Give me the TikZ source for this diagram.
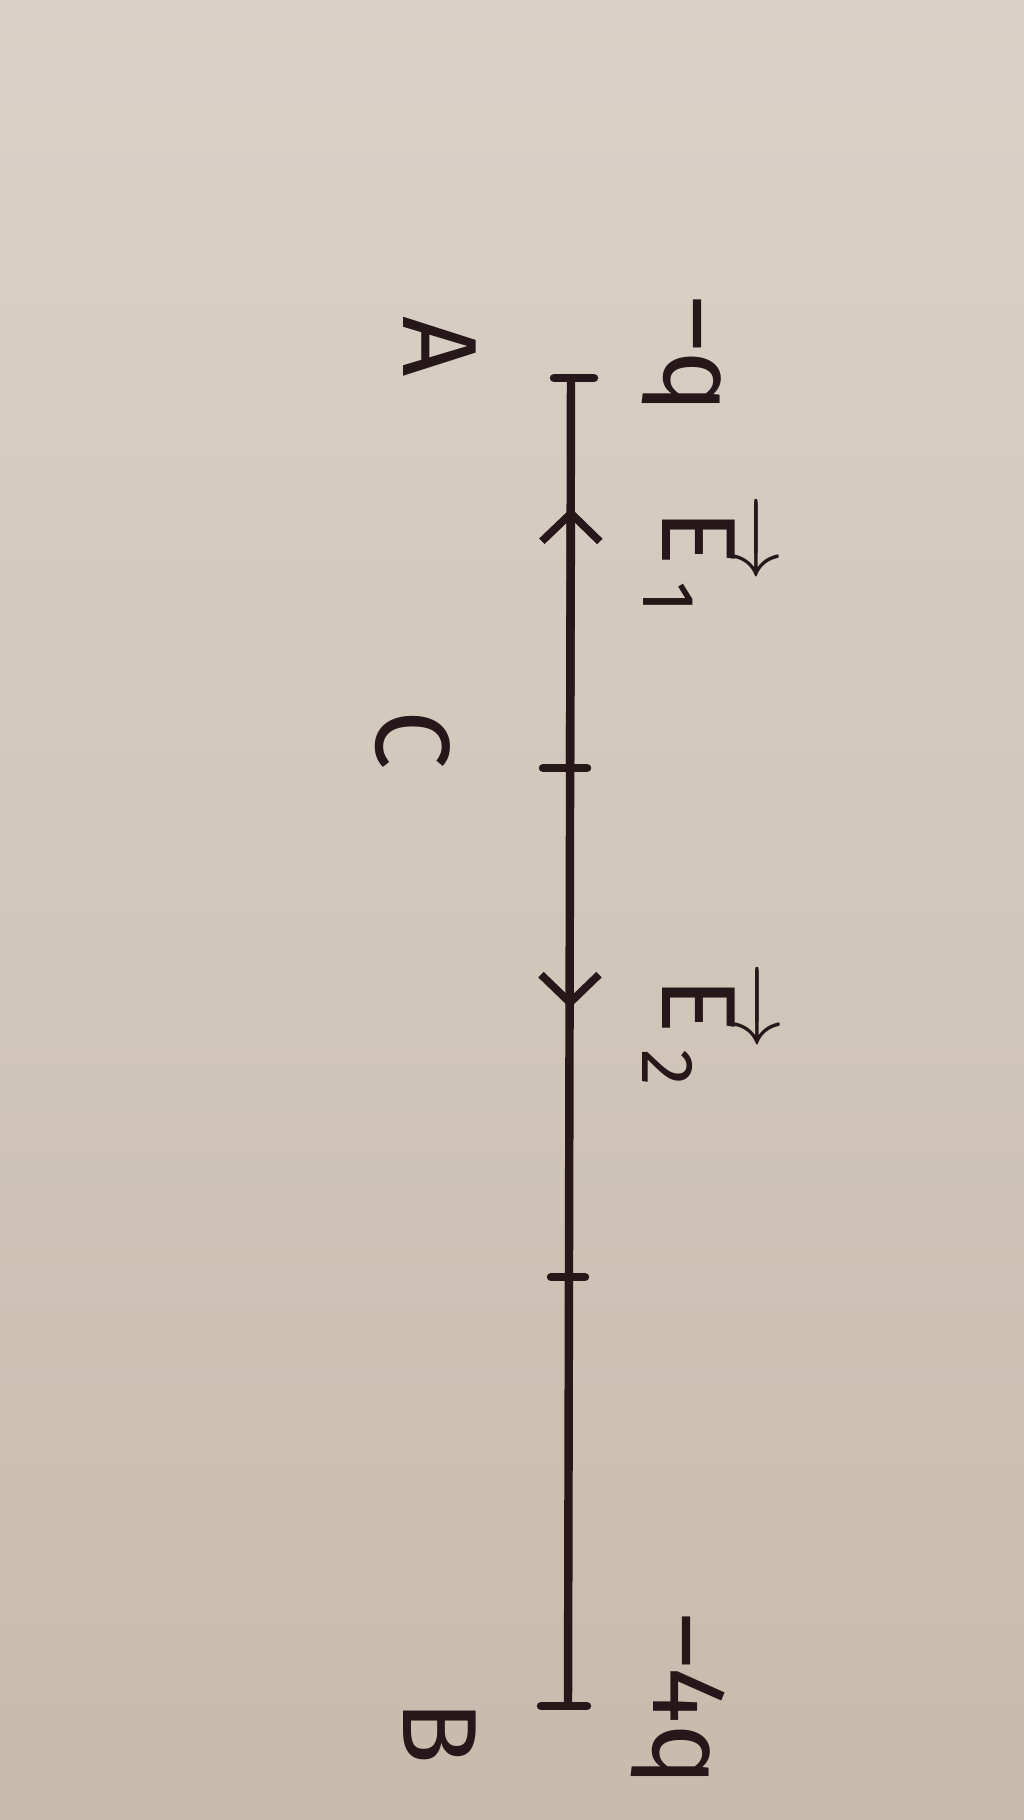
\documentclass[tikz,border=0pt]{standalone}
\usepackage{amsmath}
\usepackage{fontspec}
\setmainfont{Fira Sans}
\usetikzlibrary{arrows.meta}
\definecolor{papertop}{RGB}{218,210,200}
\definecolor{paperbot}{RGB}{200,187,173}
\definecolor{ink}{RGB}{38,24,26}
\newcommand{\hand}{\fontsize{30}{36}\selectfont}
\newcommand{\vE}[1]{$\overrightarrow{\text{E}}_{\text{#1}}$}
\begin{document}
\begin{tikzpicture}[
  seg/.style={draw=ink, line width=2.4pt, line cap=round},
  lab/.style={text=ink, rotate=-90, font=\hand, inner sep=0pt},
  barb/.style={-{Straight Barb[width=0.58cm,length=0.28cm,line width=2.2pt]}}]
  \shade[top color=papertop, bottom color=paperbot] (0,0) rectangle (10.24,-18.20);
  \useasboundingbox (0,0) rectangle (10.24,-18.20);
  \coordinate (A)    at (5.71, -3.78);
  \coordinate (B)    at (5.68,-17.06);
  \coordinate (T1)   at (5.70, -7.68);
  \coordinate (T2)   at (5.69,-12.77);
  \coordinate (tip1) at (5.71, -5.08);
  \coordinate (tip2) at (5.70,-10.08);
  \draw[seg] (A) -- (B);
  \draw[seg] ([xshift=-0.17cm]A) -- ([xshift=0.23cm]A);
  \draw[seg] ([xshift=-0.27cm]B) -- ([xshift=0.19cm]B);
  \draw[seg] ([xshift=-0.27cm]T1) -- ([xshift=0.17cm]T1);
  \draw[seg] ([xshift=-0.18cm]T2) -- ([xshift=0.16cm]T2);
  \draw[seg, barb] (T1) -- (tip1);
  \draw[seg, barb] (T1) -- (tip2);
  \node[lab] (lA)  at (4.40, -3.47) {A};
  \node[lab] (lq1) at (6.82, -3.55) {–q};
  \node[lab] (lE1) at (7.05, -5.55) {\vE{1}};
  \node[lab] (lC)  at (4.13, -7.40) {C};
  \node[lab] (lE2) at (7.05,-10.25) {\vE{2}};
  \node[lab] (lq2) at (6.78,-17.00) {–4q};
  \node[lab] (lB)  at (4.40,-17.33) {B};
\end{tikzpicture}
\end{document}
